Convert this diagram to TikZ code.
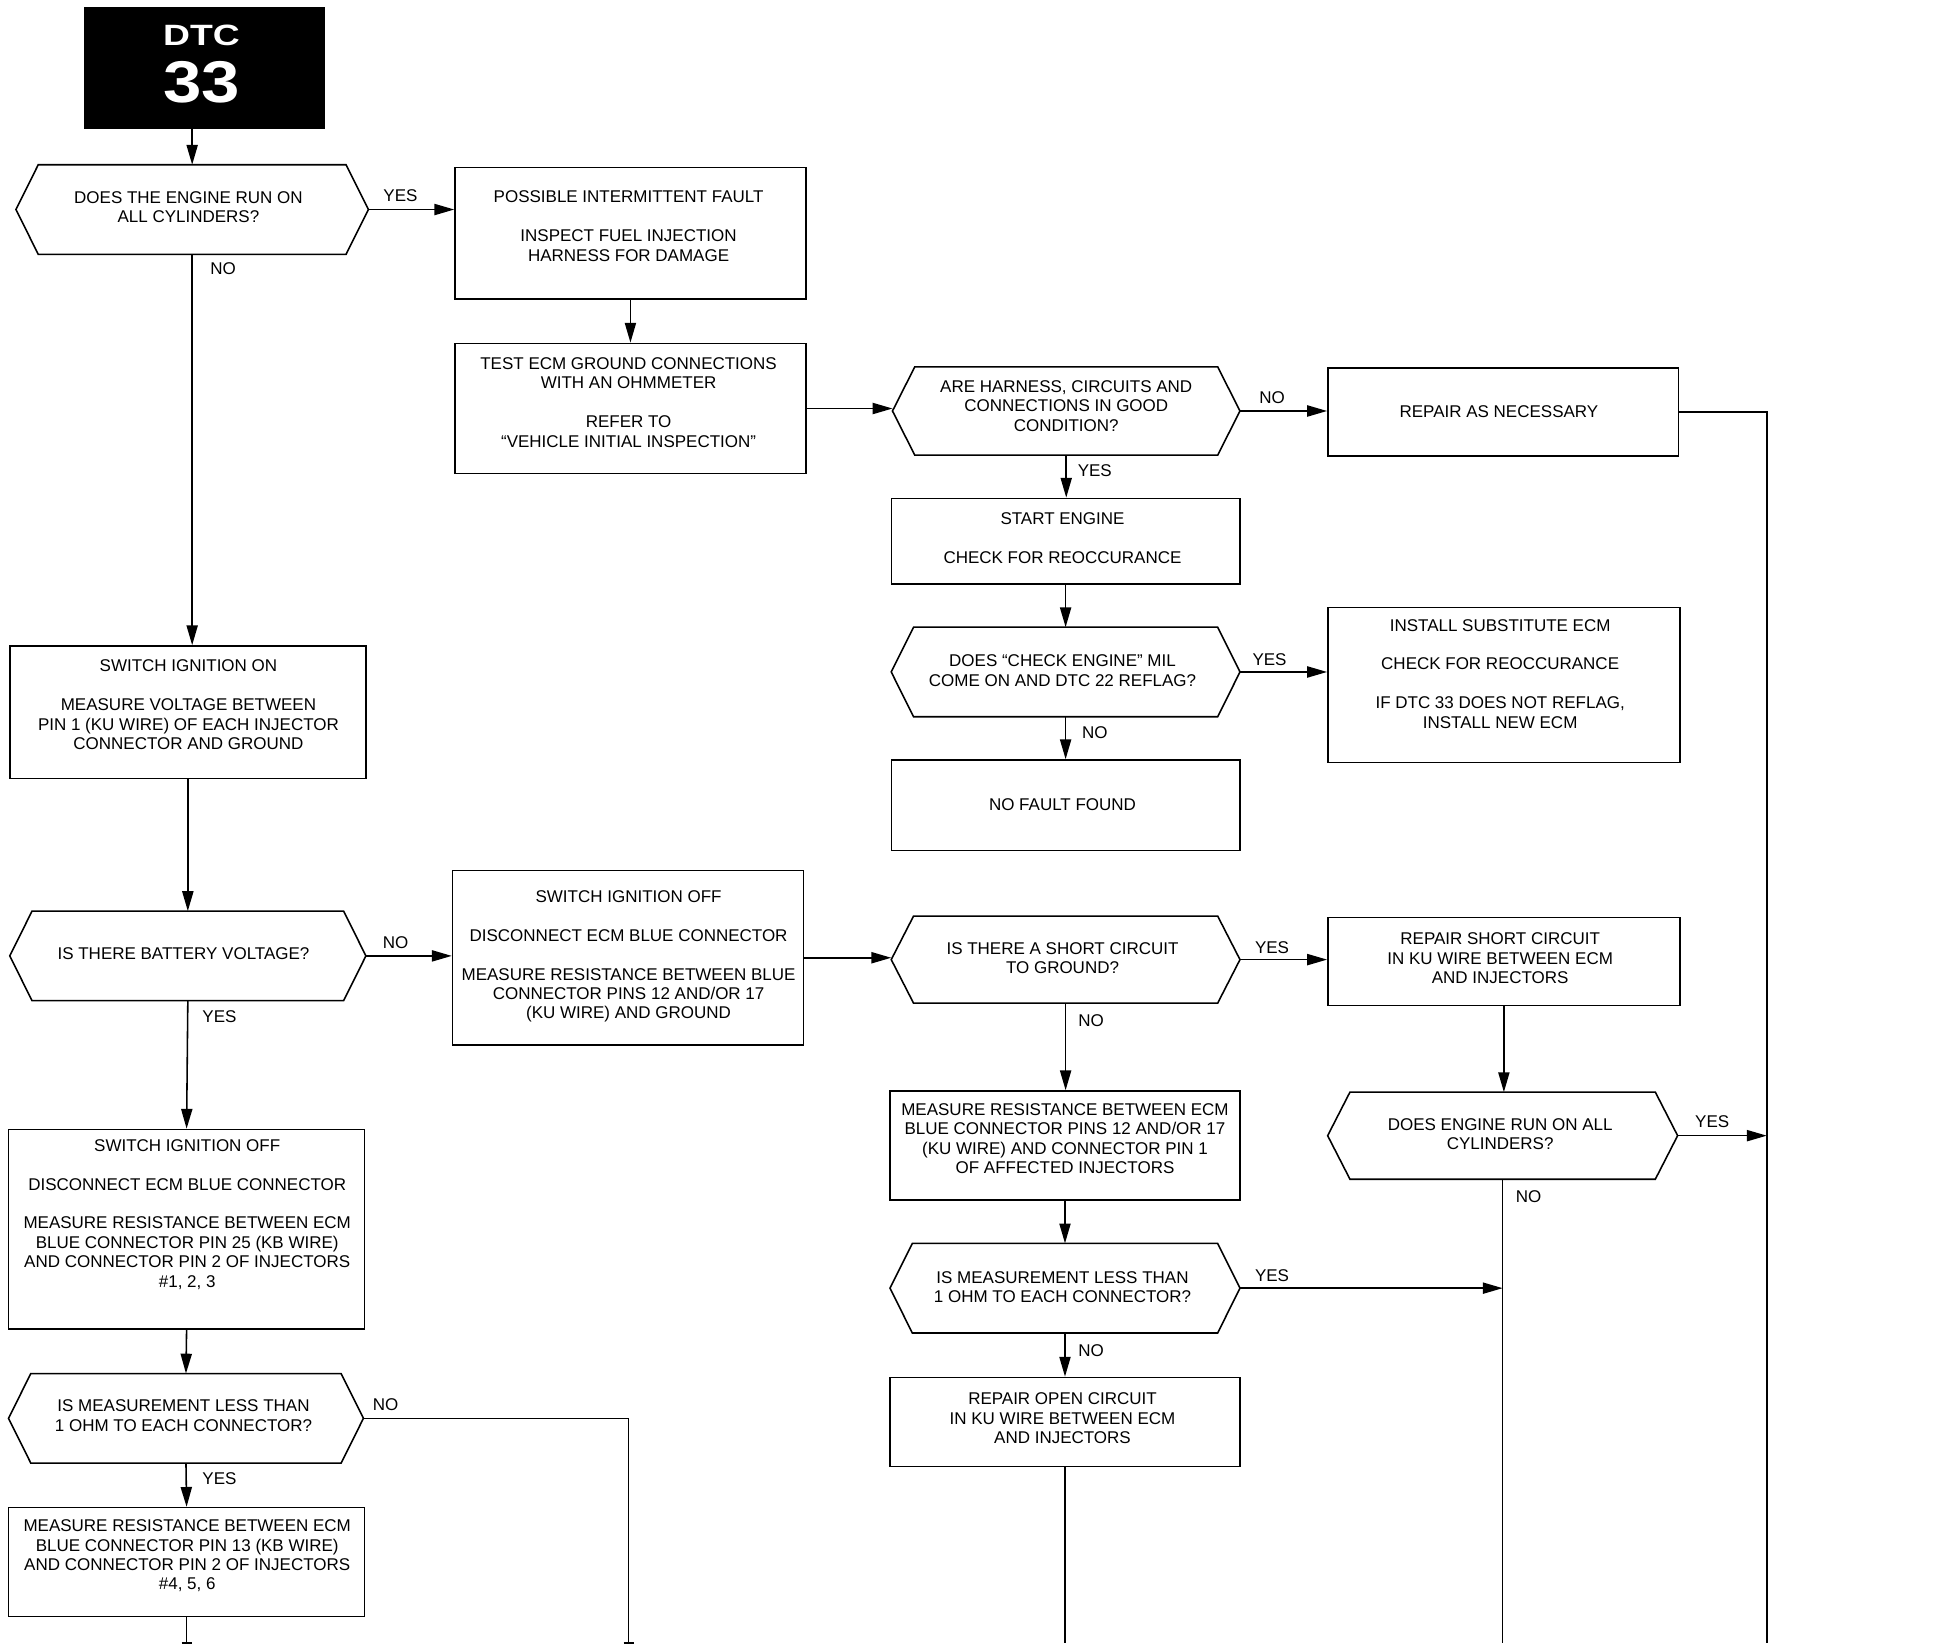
\documentclass[tikz,border=0pt]{standalone}
\usepackage{fontspec}
\setmainfont{Liberation Sans}
\usepackage{graphicx}
\usetikzlibrary{fit,arrows.meta}
\tikzset{
 box/.style={draw, inner sep=0pt, line width=1.8pt},
 hexbb/.style={inner sep=0pt},
 txt/.style={align=center, inner sep=0pt, font=\fontsize{19.5}{22.3}\selectfont},
 lab/.style={inner sep=0pt, font=\fontsize{19.5}{22.3}\selectfont},
 arr/.style={-{Triangle[length=0.8cm,width=0.45cm]}, line width=1.8pt},
 conn/.style={line width=1.8pt},
}
\newcommand\hexdraw[1]{\draw[conn] (#1.west) -- ([xshift=0.9cm]#1.north west) -- ([xshift=-0.9cm]#1.north east) -- (#1.east) -- ([xshift=-0.9cm]#1.south east) -- ([xshift=0.9cm]#1.south west) -- cycle;}
\newcommand\gap{\\[22.3pt]}
\begin{document}
\begin{tikzpicture}[x=0.05cm,y=-0.05cm]
\useasboundingbox (0,0) rectangle (1568,1329);
% DTC header
\node[fit={(68,6) (262,104)}, inner sep=0pt, fill=black] (dtc) {};
\node[text=white, inner sep=0pt, font=\bfseries\fontsize{33.7}{33.7}\selectfont] (dtct) at (162.5,28.5) {\scalebox{1.27}[1]{DTC}};
\node[text=white, inner sep=0pt, font=\bfseries\fontsize{67.6}{67.6}\selectfont] (dtcn) at (162.5,66) {\scalebox{1.17}[1]{33}};

% shapes: boxes
\node[box, fit={(367,135) (650,241)}] (b1) {};
\node[box, fit={(367,277) (650,382)}] (b2) {};
\node[box, fit={(1071,297) (1354,368)}] (b3) {};
\node[box, fit={(719,402) (1000,471)}] (b4) {};
\node[box, fit={(1071,490) (1355,615)}] (b5) {};
\node[box, fit={(719,613) (1000,686)}] (b6) {};
\node[box, fit={(8,521) (295,628)}] (s1) {};
\node[box, fit={(365,702) (648,843)}] (b7) {};
\node[box, fit={(1071,740) (1355,811)}] (b8) {};
\node[box, fit={(718,880) (1000,968)}] (b9) {};
\node[box, fit={(718,1111) (1000,1183)}] (b10) {};
\node[box, fit={(7,911) (294,1072)}] (s2) {};
\node[box, fit={(7,1216) (294,1304)}] (s3) {};
% shapes: decisions
\node[hexbb, fit={(13,133) (297,205)}] (d1) {};
\node[hexbb, fit={(720,296) (1000,367)}] (d2) {};
\node[hexbb, fit={(719,506) (1000,578)}] (d3) {};
\node[hexbb, fit={(8,735) (295,807)}] (d4) {};
\node[hexbb, fit={(719,739) (1000,809)}] (d5) {};
\node[hexbb, fit={(1071,881) (1353,951)}] (d6) {};
\node[hexbb, fit={(718,1003) (1000,1075)}] (d7) {};
\node[hexbb, fit={(7,1108) (293,1180)}] (d8) {};
\hexdraw{d1}\hexdraw{d2}\hexdraw{d3}\hexdraw{d4}
\hexdraw{d5}\hexdraw{d6}\hexdraw{d7}\hexdraw{d8}

% texts
\node[txt] (d1t) at (152,167) {DOES THE ENGINE RUN ON\\ALL CYLINDERS?};
\node[txt] (b1t) at (507,182.5) {POSSIBLE INTERMITTENT FAULT\gap INSPECT FUEL INJECTION\\HARNESS FOR DAMAGE};
\node[txt] (b2t) at (507,324.5) {TEST ECM GROUND CONNECTIONS\\WITH AN OHMMETER\gap REFER TO\\``VEHICLE INITIAL INSPECTION''};
\node[txt] (d2t) at (860,327.5) {ARE HARNESS, CIRCUITS AND\\CONNECTIONS IN GOOD\\CONDITION?};
\node[txt] (b3t) at (1209,332) {REPAIR AS NECESSARY};
\node[txt] (b4t) at (857,434) {START ENGINE\gap CHECK FOR REOCCURANCE};
\node[txt] (d3t) at (857,541) {DOES ``CHECK ENGINE'' MIL\\COME ON AND DTC 22 REFLAG?};
\node[txt] (b5t) at (1210,543.5) {INSTALL SUBSTITUTE ECM\gap CHECK FOR REOCCURANCE\gap IF DTC 33 DOES NOT REFLAG,\\INSTALL NEW ECM};
\node[txt] (b6t) at (857,649) {NO FAULT FOUND};
\node[txt] (s1t) at (152,568.5) {SWITCH IGNITION ON\gap MEASURE VOLTAGE BETWEEN\\PIN 1 (KU WIRE) OF EACH INJECTOR\\CONNECTOR AND GROUND};
\node[txt] (d4t) at (148,769) {IS THERE BATTERY VOLTAGE?};
\node[txt] (b7t) at (507,771.5) {SWITCH IGNITION OFF\gap DISCONNECT ECM BLUE CONNECTOR\gap MEASURE RESISTANCE BETWEEN BLUE\\CONNECTOR PINS 12 AND/OR 17\\(KU WIRE) AND GROUND};
\node[txt] (d5t) at (857,773) {IS THERE A SHORT CIRCUIT\\TO GROUND?};
\node[txt] (b8t) at (1210,773) {REPAIR SHORT CIRCUIT\\IN KU WIRE BETWEEN ECM\\AND INJECTORS};
\node[txt] (d6t) at (1210,915) {DOES ENGINE RUN ON ALL\\CYLINDERS?};
\node[txt] (b9t) at (859,918.5) {MEASURE RESISTANCE BETWEEN ECM\\BLUE CONNECTOR PINS 12 AND/OR 17\\(KU WIRE) AND CONNECTOR PIN 1\\OF AFFECTED INJECTORS};
\node[txt] (d7t) at (857,1038) {IS MEASUREMENT LESS THAN\\1 OHM TO EACH CONNECTOR?};
\node[txt] (b10t) at (857,1144) {REPAIR OPEN CIRCUIT\\IN KU WIRE BETWEEN ECM\\AND INJECTORS};
\node[txt] (s2t) at (151,979.5) {SWITCH IGNITION OFF\gap DISCONNECT ECM BLUE CONNECTOR\gap MEASURE RESISTANCE BETWEEN ECM\\BLUE CONNECTOR PIN 25 (KB WIRE)\\AND CONNECTOR PIN 2 OF INJECTORS\\\#1, 2, 3};
\node[txt] (d8t) at (148,1142) {IS MEASUREMENT LESS THAN\\1 OHM TO EACH CONNECTOR?};
\node[txt] (s3t) at (151,1255) {MEASURE RESISTANCE BETWEEN ECM\\BLUE CONNECTOR PIN 13 (KB WIRE)\\AND CONNECTOR PIN 2 OF INJECTORS\\\#4, 5, 6};

% free ends
\coordinate (rtop) at (1425,333);
\coordinate (rbot) at (1425,1325);
\coordinate (d6bot) at (1212,1325);
\coordinate (b10bot) at (859,1325);
\coordinate (d8turn) at (507,1144);
\coordinate (d8bot) at (507,1325);
\coordinate (s3bot) at (151,1325);

% connectors
\draw[arr] (dtc.south -| d1.north) -- (d1.north);
\draw[arr] (d1.east) -- (d1.east -| b1.west);
\draw[arr] (d1.south) -- (d1.south |- s1.north);
\draw[arr] (b1.south) -- (b2.north);
\draw[arr] (b2.east) -- (b2.east -| d2.west);
\draw[arr] (d2.east) -- (d2.east -| b3.west);
\draw[conn] (b3.east) -- (b3.east -| rtop) -- (rbot);
\draw[arr] (d2.south) -- (d2.south |- b4.north);
\draw[arr] (b4.south) -- (b4.south |- d3.north);
\draw[arr] (d3.east) -- (d3.east -| b5.west);
\draw[arr] (d3.south) -- (d3.south |- b6.north);
\draw[arr] (s1.south) -- (d4.north);
\draw[arr] (d4.east) -- (d4.east -| b7.west);
\draw[arr] (b7.east) -- (b7.east -| d5.west);
\draw[arr] (d5.east) -- (d5.east -| b8.west);
\draw[arr] (b8.south) -- (b8.south |- d6.north);
\draw[arr] (d6.east) -- (d6.east -| rbot);
\draw[conn] (d6.south) -- (d6.south |- d6bot);
\draw[arr] (d5.south) -- (d5.south |- b9.north);
\draw[arr] (b9.south) -- (b9.south |- d7.north);
\draw[arr] (d7.east) -- (d7.east -| d6bot);
\draw[arr] (d7.south) -- (d7.south |- b10.north);
\draw[conn] (b10.south) -- (b10.south |- b10bot);
\draw[arr] (d4.south) -- (s2.north);
\draw[arr] (s2.south) -- (d8.north);
\draw[conn] (d8.east) -- (d8.east -| d8turn) -- (d8bot);
\draw[conn] ([xshift=-0.2cm]d8bot) -- ([xshift=0.2cm]d8bot);
\draw[arr] (d8.south) -- (s3.north);
\draw[conn] (s3.south) -- (s3.south |- s3bot);
\draw[conn] ([xshift=-0.2cm]s3.south |- s3bot) -- ([xshift=0.2cm]s3.south |- s3bot);

% labels
\node[lab] (l1) at (323,158) {YES};
\node[lab] (l2) at (180,217) {NO};
\node[lab] (l3) at (1026,321) {NO};
\node[lab] (l4) at (883,380) {YES};
\node[lab] (l5) at (1024,532) {YES};
\node[lab] (l6) at (883,591) {NO};
\node[lab] (l7) at (319,760) {NO};
\node[lab] (l8) at (177,820) {YES};
\node[lab] (l9) at (1026,764) {YES};
\node[lab] (l10) at (880,823) {NO};
\node[lab] (l11) at (1381,905) {YES};
\node[lab] (l12) at (1233,965) {NO};
\node[lab] (l13) at (1026,1029) {YES};
\node[lab] (l14) at (880,1089) {NO};
\node[lab] (l15) at (311,1133) {NO};
\node[lab] (l16) at (177,1193) {YES};
\end{tikzpicture}
\end{document}
